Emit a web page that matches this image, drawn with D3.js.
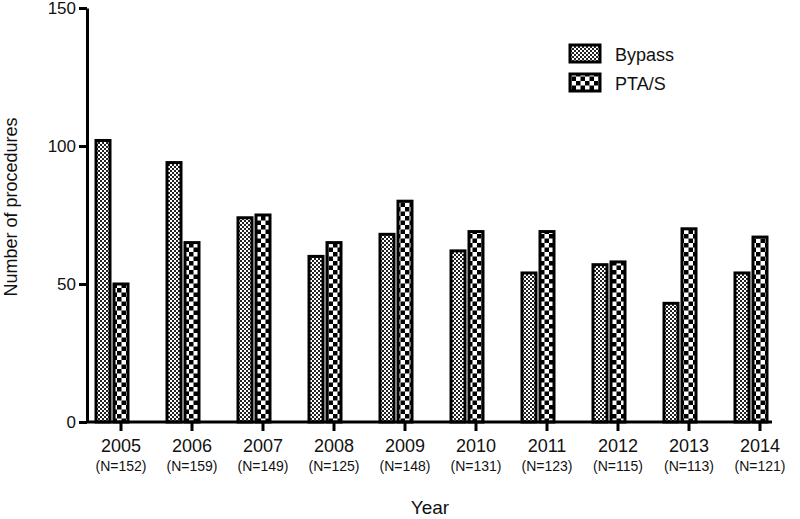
<!DOCTYPE html>
<html>
<head>
<meta charset="utf-8">
<script src="https://cdn.jsdelivr.net/npm/d3@7"></script>
<style>
  body { margin: 0; background: #fff; }
  text { font-family: "Liberation Sans", Arial, sans-serif; fill: #111; }
</style>
</head>
<body>
<div id="container"></div>
<script>
const years = ['2005', '2006', '2007', '2008', '2009', '2010', '2011', '2012', '2013', '2014'];
const totals = [152, 159, 149, 125, 148, 131, 123, 115, 113, 121];
const bypass = [102, 94, 74, 60, 68, 62, 54, 57, 43, 54];
const ptas = [50, 65, 75, 65, 80, 69, 69, 58, 70, 67];
const yTicks = [0, 50, 100, 150];

const w = 800;
const h = 519;

const svg = d3.select('#container')
  .append('svg')
    .attr('width', w)
    .attr('height', h);

// fill patterns
const defs = svg.append('defs');

const fine = defs.append('pattern')
  .attr('id', 'fine')
  .attr('patternUnits', 'userSpaceOnUse')
  .attr('width', 4)
  .attr('height', 4);
fine.append('rect').attr('width', 4).attr('height', 4).attr('fill', '#fff');
fine.append('rect').attr('width', 2).attr('height', 2).attr('fill', '#222');
fine.append('rect').attr('x', 2).attr('y', 2).attr('width', 2).attr('height', 2).attr('fill', '#222');

const coarse = defs.append('pattern')
  .attr('id', 'coarse')
  .attr('patternUnits', 'userSpaceOnUse')
  .attr('width', 9)
  .attr('height', 9);
coarse.append('rect').attr('width', 9).attr('height', 9).attr('fill', '#fff');
coarse.append('rect').attr('width', 4.5).attr('height', 4.5).attr('fill', '#000');
coarse.append('rect').attr('x', 4.5).attr('y', 4.5).attr('width', 4.5).attr('height', 4.5).attr('fill', '#000');

const x = d3.scalePoint()
  .domain(years)
  .range([121, 760]);

const y = d3.scaleLinear()
  .domain([0, 150])
  .range([422, 8]);

const barW = 14;

// bars
svg.append('g')
  .selectAll('rect')
  .data(years)
  .enter()
  .append('rect')
    .attr('x', d => x(d) - 18 - barW / 2)
    .attr('y', (d, i) => y(bypass[i]))
    .attr('width', barW)
    .attr('height', (d, i) => y(0) - y(bypass[i]))
    .attr('fill', 'url(#fine)')
    .attr('stroke', '#000')
    .attr('stroke-width', 3);

svg.append('g')
  .selectAll('rect')
  .data(years)
  .enter()
  .append('rect')
    .attr('x', d => x(d) - barW / 2)
    .attr('y', (d, i) => y(ptas[i]))
    .attr('width', barW)
    .attr('height', (d, i) => y(0) - y(ptas[i]))
    .attr('fill', 'url(#coarse)')
    .attr('stroke', '#000')
    .attr('stroke-width', 3);

// y axis
const yAxis = svg.append('g')
  .attr('transform', 'translate(87, 0)')
  .call(d3.axisLeft(y).tickValues(yTicks).tickSize(8).tickSizeOuter(0).tickPadding(3));
yAxis.select('.domain').attr('stroke-width', 3);
yAxis.selectAll('.tick line').attr('stroke-width', 3);
yAxis.selectAll('.tick text')
  .style('font-size', '17px')
  .style('font-family', '"Liberation Sans", Arial, sans-serif')
  .attr('fill', '#111');

// x axis
svg.append('line')
  .attr('x1', 86)
  .attr('x2', 772)
  .attr('y1', y(0))
  .attr('y2', y(0))
  .attr('stroke', '#000')
  .attr('stroke-width', 3);

const xg = svg.append('g');
xg.selectAll('line')
  .data(years)
  .enter()
  .append('line')
    .attr('x1', d => x(d))
    .attr('x2', d => x(d))
    .attr('y1', y(0))
    .attr('y2', y(0) + 9)
    .attr('stroke', '#000')
    .attr('stroke-width', 3);

xg.selectAll('.yr')
  .data(years)
  .enter()
  .append('text')
    .attr('class', 'yr')
    .attr('x', d => x(d))
    .attr('y', 452)
    .attr('text-anchor', 'middle')
    .style('font-size', '18px')
    .text(d => d);

xg.selectAll('.n')
  .data(years)
  .enter()
  .append('text')
    .attr('class', 'n')
    .attr('x', d => x(d))
    .attr('y', 471)
    .attr('text-anchor', 'middle')
    .style('font-size', '14px')
    .text((d, i) => '(N=' + totals[i] + ')');

// axis titles
svg.append('text')
  .attr('x', 430)
  .attr('y', 514)
  .attr('text-anchor', 'middle')
  .style('font-size', '19px')
  .text('Year');

svg.append('text')
  .attr('transform', 'rotate(-90)')
  .attr('x', -207)
  .attr('y', 17)
  .attr('text-anchor', 'middle')
  .style('font-size', '18px')
  .text('Number of procedures');

// legend
const legend = svg.append('g');
const items = [['Bypass', 'url(#fine)'], ['PTA/S', 'url(#coarse)']];

items.forEach((it, i) => {
  legend.append('rect')
    .attr('x', 570)
    .attr('y', 45 + i * 29)
    .attr('width', 30)
    .attr('height', 17)
    .attr('fill', it[1])
    .attr('stroke', '#000')
    .attr('stroke-width', 3);
  legend.append('text')
    .attr('x', 615)
    .attr('y', 61 + i * 29)
    .style('font-size', '18px')
    .text(it[0]);
});
</script>
</body>
</html>
